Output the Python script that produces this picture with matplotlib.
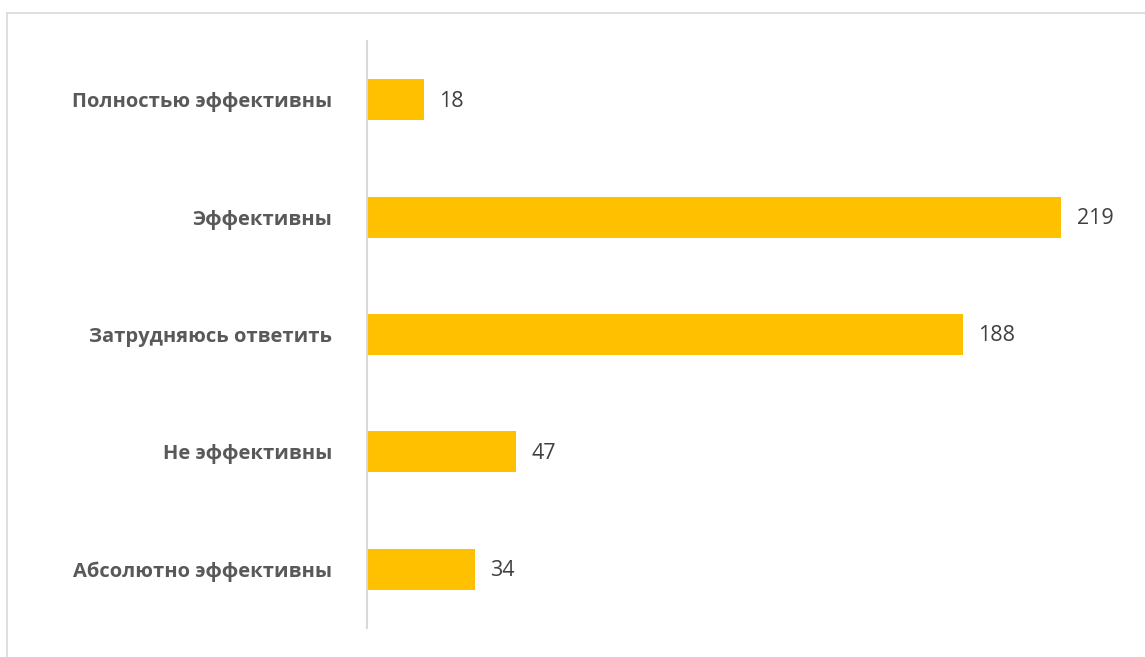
import matplotlib.pyplot as plt
from matplotlib.lines import Line2D

categories = ["Полностью эффективны", "Эффективны", "Затрудняюсь ответить",
              "Не эффективны", "Абсолютно эффективны"]
values = [18, 219, 188, 47, 34]

W, H = 1145, 657
fig = plt.figure(figsize=(W / 100, H / 100), dpi=100)
ax = fig.add_axes([367 / W, 1 - 628 / H, (1128 - 367) / W, (628 - 41) / H])

y = list(range(len(categories)))
bars = ax.barh(y, values, height=0.35, color="#FFC000")
ax.set_ylim(len(categories) - 0.5, -0.5)
ax.set_xlim(0, 240)

for b, v in zip(bars, values):
    ax.annotate(str(v), (b.get_width(), b.get_y() + b.get_height() / 2),
                xytext=(11, -1), textcoords="offset points",
                ha="left", va="center", fontsize=15.5, color="#404040",
                family="Open Sans")

ax.set_yticks(y)
ax.set_yticklabels(categories, fontsize=14.5, fontweight="bold", color="#595959",
                   family="Open Sans")
ax.tick_params(axis="y", length=0, pad=25)
ax.set_xticks([])
for s in ["top", "right", "bottom"]:
    ax.spines[s].set_visible(False)
ax.spines["left"].set_color("#D9D9D9")
ax.spines["left"].set_linewidth(1.5)

# chart frame (only top and left edges visible in the crop)
fig.add_artist(Line2D([7 / W, 1], [1 - 13 / H, 1 - 13 / H], color="#D9D9D9", lw=1.2))
fig.add_artist(Line2D([7 / W, 7 / W], [0, 1 - 13 / H], color="#D9D9D9", lw=1.2))

fig.savefig("out.png", dpi=100)
